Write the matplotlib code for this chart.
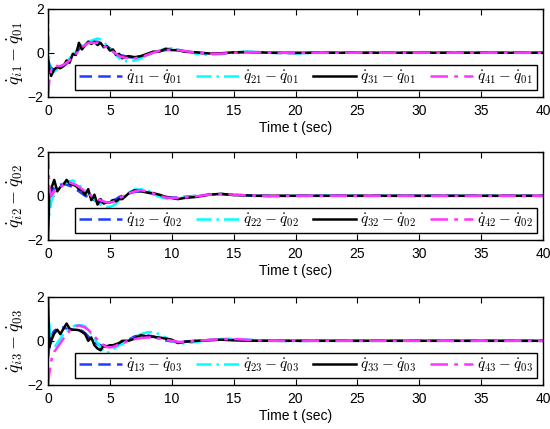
import numpy as np
import matplotlib.pyplot as plt

plt.rcParams['font.family'] = ['Liberation Sans', 'DejaVu Sans']
plt.rcParams['mathtext.fontset'] = 'cm'

# shared time grid (sec)
t = [0, 0.1, 0.25, 0.5, 0.75, 1, 1.25, 1.5, 1.75, 2, 2.25, 2.5, 2.75, 3, 3.25, 3.5,
     3.75, 4, 4.25, 4.5, 4.75, 5, 5.25, 5.5, 5.75, 6, 6.5, 7, 7.5, 8, 8.5, 9, 9.5,
     10, 10.5, 11, 12, 13, 14, 15, 16, 17, 18, 20, 22, 25, 30, 35, 40]

# joint 1 errors
q11 = [-0.3, -0.5, -0.7, -0.75, -0.7, -0.65, -0.6, -0.5, -0.35, -0.2, 0.0, 0.15, 0.3, 0.4, 0.45, 0.5,
       0.5, 0.5, 0.45, 0.4, 0.3, 0.2, 0.1, 0.0, -0.08, -0.12, -0.2, -0.22, -0.18, -0.1, 0.0, 0.08, 0.12,
       0.15, 0.12, 0.08, 0.0, -0.05, -0.05, 0.0, 0.04, 0.03, 0.0, -0.02, 0.01, 0.0, 0.0, 0.0, 0.0]
q21 = [2.0, -0.6, -0.8, -0.85, -0.75, -0.6, -0.55, -0.4, -0.25, -0.1, 0.05, 0.2, 0.35, 0.45, 0.5, 0.55,
       0.6, 0.65, 0.6, 0.5, 0.35, 0.2, 0.05, -0.1, -0.25, -0.35, -0.4, -0.35, -0.25, -0.12, 0.0, 0.1, 0.18,
       0.2, 0.15, 0.08, -0.05, -0.1, -0.05, 0.02, 0.05, 0.03, 0.0, -0.03, 0.01, 0.0, 0.0, 0.0, 0.0]
q31 = [-0.3, -0.7, -1.05, -0.75, -0.65, -0.7, -0.6, -0.35, -0.45, -0.05, -0.1, 0.45, 0.15, 0.35, 0.5, 0.4,
       0.5, 0.35, 0.45, 0.25, 0.3, 0.1, 0.15, -0.1, -0.05, -0.25, -0.15, -0.2, -0.15, -0.05, 0.05, 0.05, 0.18,
       0.12, 0.12, 0.05, 0.02, -0.03, -0.02, 0.02, 0.03, 0.02, 0.0, 0.0, 0.0, 0.0, 0.0, 0.0, 0.0]
q41 = [-2.0, -1.3, -0.8, -0.6, -0.6, -0.6, -0.55, -0.45, -0.35, -0.2, -0.05, 0.1, 0.25, 0.35, 0.45, 0.45,
       0.45, 0.45, 0.4, 0.3, 0.25, 0.15, 0.05, -0.05, -0.15, -0.2, -0.25, -0.25, -0.2, -0.1, 0.0, 0.08, 0.12,
       0.14, 0.12, 0.08, 0.0, -0.04, -0.04, 0.0, 0.03, 0.02, 0.0, -0.01, 0.0, 0.0, 0.0, 0.0, 0.0]

# joint 2 errors
q12 = [0.5, 0.3, 0.2, 0.35, 0.45, 0.5, 0.55, 0.5, 0.45, 0.4, 0.3, 0.2, 0.1, 0.0, -0.05, -0.1,
       -0.2, -0.25, -0.3, -0.3, -0.3, -0.25, -0.2, -0.15, -0.05, 0.0, 0.1, 0.18, 0.2, 0.15, 0.08, 0.0, -0.05,
       -0.08, -0.08, -0.05, 0.0, 0.05, 0.07, 0.05, 0.02, 0.0, -0.01, 0.0, 0.0, 0.0, 0.0, 0.0, 0.0]
q22 = [0.0, -0.9, -0.3, 0.2, 0.35, 0.45, 0.55, 0.6, 0.65, 0.7, 0.6, 0.5, 0.35, 0.25, 0.1, 0.0,
       -0.15, -0.3, -0.4, -0.45, -0.5, -0.5, -0.45, -0.35, -0.2, -0.05, 0.15, 0.28, 0.3, 0.25, 0.1, -0.05, -0.12,
       -0.15, -0.12, -0.08, 0.0, 0.06, 0.08, 0.06, 0.02, 0.0, -0.02, 0.0, 0.01, 0.0, 0.0, 0.0, 0.0]
q32 = [-2.0, 0.0, 0.3, 0.72, 0.2, 0.4, 0.5, 0.72, 0.55, 0.5, 0.45, 0.3, 0.25, 0.05, 0.3, -0.2,
       0.05, -0.4, -0.15, -0.35, -0.3, -0.3, -0.2, -0.25, -0.15, -0.15, 0.1, 0.25, 0.2, 0.15, 0.12, 0.05, -0.05,
       -0.1, -0.15, -0.1, -0.05, 0.05, 0.09, 0.03, 0.02, 0.0, 0.0, 0.0, 0.0, 0.0, 0.0, 0.0, 0.0]
q42 = [2.0, 0.4, 0.0, 0.2, 0.3, 0.4, 0.5, 0.6, 0.6, 0.55, 0.5, 0.4, 0.3, 0.2, 0.1, 0.0,
       -0.1, -0.15, -0.2, -0.25, -0.3, -0.3, -0.28, -0.2, -0.1, -0.05, 0.1, 0.2, 0.25, 0.2, 0.1, 0.0, -0.08,
       -0.1, -0.1, -0.08, -0.02, 0.05, 0.08, 0.05, 0.02, 0.0, -0.01, 0.0, 0.0, 0.0, 0.0, 0.0, 0.0]

# joint 3 errors
q13 = [-0.8, -0.3, 0.2, 0.45, 0.55, 0.6, 0.6, 0.55, 0.5, 0.5, 0.5, 0.5, 0.45, 0.35, 0.2, 0.05,
       -0.05, -0.15, -0.2, -0.25, -0.3, -0.3, -0.25, -0.2, -0.15, -0.1, 0.05, 0.2, 0.25, 0.25, 0.2, 0.1, 0.02,
       -0.03, -0.05, -0.03, 0.0, 0.03, 0.05, 0.05, 0.03, 0.01, 0.0, 0.0, 0.0, 0.0, 0.0, 0.0, 0.0]
q23 = [0.8, 0.8, -0.1, -0.3, -0.1, 0.1, 0.3, 0.45, 0.55, 0.65, 0.7, 0.7, 0.7, 0.65, 0.5, 0.3,
       0.1, -0.1, -0.3, -0.45, -0.55, -0.5, -0.4, -0.3, -0.2, -0.15, 0.0, 0.15, 0.3, 0.38, 0.4, 0.3, 0.15,
       0.0, -0.1, -0.12, -0.05, 0.03, 0.08, 0.1, 0.06, 0.02, 0.0, -0.01, 0.0, 0.0, 0.0, 0.0, 0.0]
q33 = [2.0, -0.3, 0.0, 0.33, 0.5, 0.3, 0.55, 0.78, 0.55, 0.5, 0.5, 0.48, 0.4, 0.3, 0.0, 0.15,
       -0.2, -0.35, -0.43, -0.2, -0.25, -0.2, -0.2, -0.15, -0.1, 0.0, 0.0, 0.1, 0.25, 0.2, 0.18, 0.15, 0.1,
       0.05, -0.1, -0.05, 0.0, 0.03, 0.05, 0.02, 0.01, 0.0, 0.0, 0.0, 0.0, 0.0, 0.0, 0.0, 0.0]
q43 = [-2.0, -1.5, -0.9, -0.5, -0.3, -0.1, 0.1, 0.3, 0.45, 0.55, 0.65, 0.7, 0.65, 0.6, 0.5, 0.35,
       0.2, 0.05, -0.1, -0.2, -0.28, -0.3, -0.28, -0.22, -0.15, -0.1, 0.0, 0.08, 0.12, 0.15, 0.15, 0.1, 0.05,
       0.0, -0.05, -0.05, 0.0, 0.04, 0.07, 0.08, 0.05, 0.02, 0.0, 0.0, 0.0, 0.0, 0.0, 0.0, 0.0]

series = [[q11, q21, q31, q41], [q12, q22, q32, q42], [q13, q23, q33, q43]]

colors = ['#1f3fff', '#00ffff', 'black', '#ff33ff']
styles = [(0, (5, 2.5)), (0, (6, 2, 1, 2)), '-', (0, (7, 2.5, 1.5, 2.5))]

fig = plt.figure(figsize=(5.5, 4.29), dpi=100)
bottoms = [0.774, 0.4406, 0.1026]

for j in range(3):
    ax = fig.add_axes([0.0873, bottoms[j], 0.9, 0.206])
    for i in range(4):
        lbl = r'$\dot{q}_{%d%d}-\dot{q}_{0%d}$' % (i + 1, j + 1, j + 1)
        ax.plot(t, series[j][i], color=colors[i], linestyle=styles[i], linewidth=1.8, label=lbl)
    ax.set_xlim(0, 40)
    ax.set_ylim(-2, 2)
    ax.set_xticks(np.arange(0, 41, 5))
    ax.set_yticks([-2, 0, 2])
    ax.tick_params(direction='in', top=True, right=True, length=4, labelsize=10)
    ax.tick_params(axis='x', pad=5)
    ax.tick_params(axis='y', pad=3)
    for s in ax.spines.values():
        s.set_linewidth(1.0)
    ax.set_xlabel('Time t (sec)', fontsize=10, labelpad=2)
    ax.set_ylabel(r'$\dot{q}_{i%d}-\dot{q}_{0%d}$' % (j + 1, j + 1), fontsize=13, labelpad=1)
    leg = ax.legend(ncol=4, loc='lower left', bbox_to_anchor=(0.0545, 0.08, 0.9335, 0.238),
                    mode='expand', borderaxespad=0, fontsize=11, handlelength=2.8,
                    handletextpad=0.3, columnspacing=0.3, fancybox=False, framealpha=1,
                    edgecolor='black', borderpad=0.25)
    leg.get_frame().set_linewidth(1.0)

fig.savefig('out.png', dpi=100)
